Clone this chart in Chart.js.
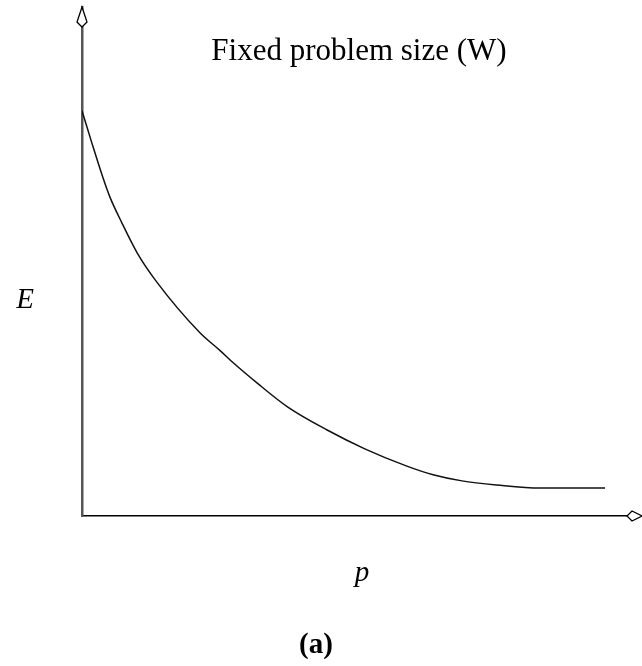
<!DOCTYPE html>
<html>
<head>
<meta charset="utf-8">
<script src="https://cdn.jsdelivr.net/npm/chart.js@4/dist/chart.umd.min.js"></script>
<style>
  html, body { margin: 0; padding: 0; background: #fff; }
  #wrap { width: 642px; height: 666px; }
</style>
</head>
<body>
<div id="wrap"><canvas id="effChart" width="642" height="666"></canvas></div>
<script>
// number of processors (p) and efficiency (E)
const procs = [0, 0.18, 0.38, 0.51, 0.73, 1.01, 1.34, 2.16, 2.53, 2.77, 3.21, 3.77, 4.49, 5.18, 5.95, 6.43, 6.96, 7.60, 8.39, 9.58];
const efficiency = [0.796, 0.733, 0.666, 0.627, 0.576, 0.517, 0.464, 0.360, 0.325, 0.301, 0.261, 0.214, 0.169, 0.132, 0.098, 0.081, 0.069, 0.061, 0.055, 0.055];

const titleText = 'Fixed problem size (W)';
const yLabel = 'E';
const xLabel = 'p';
const caption = '(a)';

const serif = '"Liberation Serif", "Times New Roman", serif';

// arrowheads and the free-floating labels
const decorations = {
    id: 'decorations',
    afterDraw(chart) {
        const ctx = chart.ctx;
        const area = chart.chartArea;
        ctx.save();
        ctx.strokeStyle = '#000';
        ctx.fillStyle = '#fff';
        ctx.lineWidth = 1.3;

        // top of y axis
        const x0 = area.left;
        ctx.beginPath();
        ctx.moveTo(x0, area.top);
        ctx.lineTo(x0 + 5, area.top + 15);
        ctx.lineTo(x0, area.top + 20);
        ctx.lineTo(x0 - 5, area.top + 15);
        ctx.closePath();
        ctx.fill();
        ctx.stroke();

        // end of x axis
        const y0 = area.bottom;
        ctx.beginPath();
        ctx.moveTo(area.right + 14, y0);
        ctx.lineTo(area.right + 4, y0 - 5);
        ctx.lineTo(area.right - 1, y0);
        ctx.lineTo(area.right + 4, y0 + 5);
        ctx.closePath();
        ctx.fill();
        ctx.stroke();

        ctx.fillStyle = '#000';
        ctx.textAlign = 'center';
        ctx.textBaseline = 'alphabetic';
        ctx.font = '31px ' + serif;
        ctx.fillText(titleText, 359, 60);

        ctx.font = 'italic 29px ' + serif;
        ctx.fillText(yLabel, 25, 308);
        ctx.fillText(xLabel, 362, 581);

        ctx.font = 'bold 29px ' + serif;
        ctx.fillText(caption, 316, 653);
        ctx.restore();
    }
};

const ctx = document.getElementById('effChart').getContext('2d');
new Chart(ctx, {
    type: 'line',
    data: {
        datasets: [{
            data: procs.map((p, i) => ({ x: p, y: efficiency[i] })),
            borderColor: '#111',
            borderWidth: 1.5,
            pointRadius: 0,
            cubicInterpolationMode: 'monotone',
            fill: false
        }]
    },
    options: {
        responsive: false,
        animation: false,
        layout: { padding: { left: 82, right: 14, top: 7, bottom: 150 } },
        plugins: {
            legend: { display: false },
            tooltip: { enabled: false }
        },
        scales: {
            x: {
                type: 'linear',
                min: 0,
                max: 10,
                ticks: { display: false },
                grid: { display: false, drawTicks: false },
                border: { display: true, color: '#000', width: 1.5 },
                afterFit(scale) { scale.height = 0; }
            },
            y: {
                min: 0,
                max: 1,
                ticks: { display: false },
                grid: { display: false, drawTicks: false },
                border: { display: true, color: '#555', width: 2.5 },
                afterFit(scale) { scale.width = 0; }
            }
        }
    },
    plugins: [decorations]
});
</script>
</body>
</html>
